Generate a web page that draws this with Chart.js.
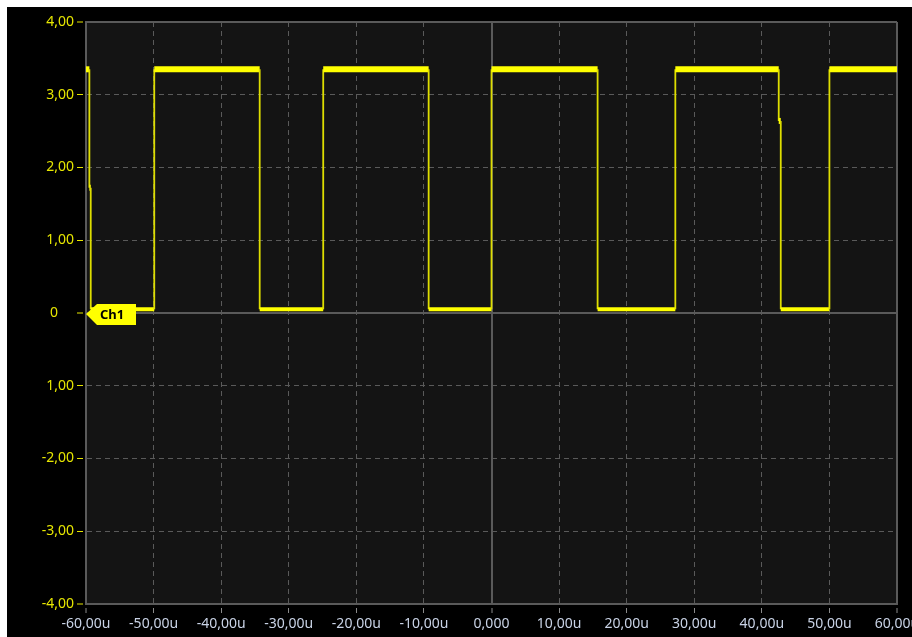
<!DOCTYPE html>
<html>
<head>
<meta charset="utf-8">
<script src="https://cdn.jsdelivr.net/npm/chart.js@4/dist/chart.umd.min.js"></script>
<style>
    html, body { margin: 0; padding: 0; background: #ffffff; }
    #wrap { width: 912px; height: 637px; }
</style>
</head>
<body>
<div id="wrap"><canvas id="scopeChart" width="912" height="637"></canvas></div>
<script>
// trace: time in microseconds, level in volts
const timeValues = [-60, -59.5, -59.5, -59.3, -59.3, -49.9, -49.9, -34.3, -34.3, -24.9, -24.9, -9.3, -9.3, 0, 0, 15.7, 15.7, 27.2, 27.2, 42.5, 42.5, 42.8, 42.8, 50.0, 50.0, 60];
const voltValues = [3.35, 3.35, 1.72, 1.72, 0.05, 0.05, 3.35, 3.35, 0.05, 0.05, 3.35, 3.35, 0.05, 0.05, 3.35, 3.35, 0.05, 0.05, 3.35, 3.35, 2.64, 2.64, 0.05, 0.05, 3.35, 3.35];

const xTickLabels = ["-60,00u", "-50,00u", "-40,00u", "-30,00u", "-20,00u", "-10,00u", "0,000", "10,00u", "20,00u", "30,00u", "40,00u", "50,00u", "60,00u"];
const yTickLabels = ["-4,00", "-3,00", "-2,00", "1,00", "0", "1,00", "2,00", "3,00", "4,00"];

const channelName = "Ch1";

const gridColor = "#5a5a5a";
const traceColor = "#ffff00";

const isEdge = (value, min, max) => value === min || value === max;

const backdropPlugin = {
    id: "backdrop",
    beforeDraw(chart) {
        const { ctx, chartArea } = chart;
        ctx.save();
        ctx.fillStyle = "#000000";
        ctx.fillRect(7, 7, chart.width - 7, chart.height - 7);
        ctx.fillStyle = "#141414";
        ctx.fillRect(chartArea.left, chartArea.top, chartArea.right - chartArea.left, chartArea.bottom - chartArea.top);
        ctx.restore();
    }
};

const markerPlugin = {
    id: "channelMarker",
    afterDatasetsDraw(chart) {
        const { ctx, chartArea } = chart;
        const y = chart.scales.y.getPixelForValue(0);
        const left = chartArea.left;
        ctx.save();
        ctx.fillStyle = traceColor;
        ctx.beginPath();
        ctx.moveTo(left, y + 1);
        ctx.lineTo(left + 11, y - 9);
        ctx.lineTo(left + 50, y - 9);
        ctx.lineTo(left + 50, y + 12);
        ctx.lineTo(left + 11, y + 12);
        ctx.closePath();
        ctx.fill();
        ctx.fillStyle = "#000000";
        ctx.font = "bold 13px 'Noto Sans', sans-serif";
        ctx.textBaseline = "middle";
        ctx.textAlign = "left";
        ctx.fillText(channelName, left + 14, y + 2);
        ctx.restore();
    }
};

function buildPoints() {
    return timeValues.map((t, i) => ({ x: t, y: voltValues[i] }));
}

function initializeScope() {
    const canvas = document.getElementById("scopeChart");

    new Chart(canvas.getContext("2d"), {
        type: "line",
        data: {
            datasets: [{
                label: channelName,
                data: buildPoints(),
                borderColor: traceColor,
                borderWidth: 2,
                pointRadius: 0,
                tension: 0,
                fill: false,
                segment: {
                    borderWidth: (ctx) => {
                        if (ctx.p0.parsed.y !== ctx.p1.parsed.y) {
                            return 1.8;
                        }
                        return ctx.p0.parsed.y > 1 ? 6 : 4;
                    },
                    borderColor: (ctx) => (ctx.p0.parsed.y !== ctx.p1.parsed.y ? "#dede00" : traceColor)
                }
            }]
        },
        options: {
            responsive: false,
            animation: false,
            devicePixelRatio: 1,
            layout: {
                padding: { left: 7, top: 22, right: 15, bottom: 0 }
            },
            plugins: {
                legend: { display: false },
                tooltip: { enabled: false }
            },
            scales: {
                x: {
                    type: "linear",
                    min: -60,
                    max: 60,
                    afterFit(scale) {
                        scale.height = 33;
                        scale.paddingLeft = 0;
                        scale.paddingRight = 0;
                    },
                    ticks: {
                        stepSize: 10,
                        maxRotation: 0,
                        autoSkip: false,
                        padding: 3,
                        color: "#c9d3e6",
                        font: { family: "Noto Sans", size: 14 },
                        callback: (value, index) => xTickLabels[index]
                    },
                    grid: {
                        color: gridColor,
                        lineWidth: (ctx) => (ctx.tick && (ctx.tick.value === 0 || isEdge(ctx.tick.value, -60, 60)) ? 2 : 1),
                        drawTicks: true,
                        tickLength: 9,
                        tickWidth: 1,
                        tickColor: "#8a8a8a",
                        tickBorderDash: [5, 3],
                        tickBorderDashOffset: 5
                    },
                    border: {
                        display: true,
                        color: gridColor,
                        width: 2,
                        dash: (ctx) => (ctx.tick && (ctx.tick.value === 0 || isEdge(ctx.tick.value, -60, 60)) ? [] : [5, 4])
                    }
                },
                y: {
                    type: "linear",
                    min: -4,
                    max: 4,
                    afterFit(scale) {
                        scale.width = 79;
                        scale.paddingTop = 0;
                        scale.paddingBottom = 0;
                    },
                    ticks: {
                        stepSize: 1,
                        padding: 3,
                        color: "#e6e600",
                        font: { family: "Noto Sans", size: 14 },
                        // the zero label sits further left in the original
                        callback: (value, index) => (value === 0 ? yTickLabels[index] + "\u2007\u2007" : yTickLabels[index])
                    },
                    grid: {
                        color: gridColor,
                        lineWidth: (ctx) => (ctx.tick && (ctx.tick.value === 0 || isEdge(ctx.tick.value, -4, 4)) ? 2 : 1),
                        drawTicks: true,
                        tickLength: 9,
                        tickWidth: 1,
                        tickColor: "#e6e600",
                        tickBorderDash: [6, 10]
                    },
                    border: {
                        display: true,
                        color: gridColor,
                        width: 2,
                        dash: (ctx) => (ctx.tick && (ctx.tick.value === 0 || isEdge(ctx.tick.value, -4, 4)) ? [] : [5, 4])
                    }
                }
            }
        },
        plugins: [backdropPlugin, markerPlugin]
    });
}

document.addEventListener("DOMContentLoaded", initializeScope);
</script>
</body>
</html>
